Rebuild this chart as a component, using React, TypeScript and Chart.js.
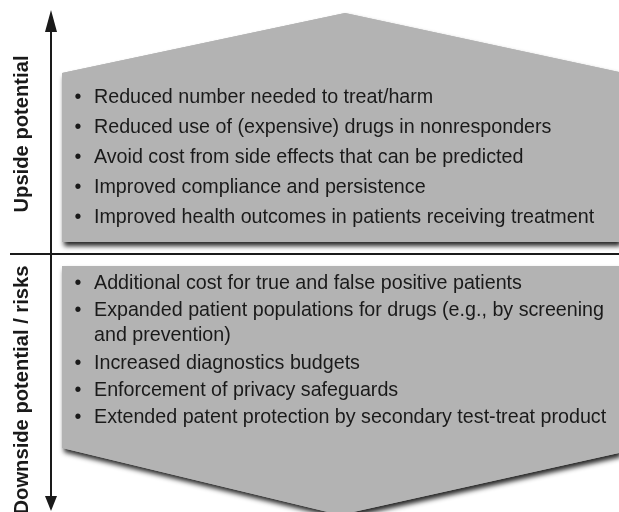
import React, { useEffect, useRef } from "react";
import { Chart, registerables } from "chart.js";

Chart.register(...registerables);

// Diagram content
const axisLabels = ["Upside potential", "Downside potential / risks"];
const upsideItems = [
  "Reduced number needed to treat/harm",
  "Reduced use of (expensive) drugs in nonresponders",
  "Avoid cost from side effects that can be predicted",
  "Improved compliance and persistence",
  "Improved health outcomes in patients receiving treatment",
];
const downsideItems = [
  ["Additional cost for true and false positive patients"],
  ["Expanded patient populations for drugs (e.g., by screening", "and prevention)"],
  ["Increased diagnostics budgets"],
  ["Enforcement of privacy safeguards"],
  ["Extended patent protection by secondary test-treat product"],
];

// Shape outlines in diagram units (x: 0..619, y: 0..512 top-down)
const upperShapeX = [62, 345, 619, 619, 62, 62];
const upperShapeY = [73, 13, 72, 242, 242, 73];
const lowerShapeX = [62, 619, 619, 340, 62, 62];
const lowerShapeY = [266, 266, 453, 515, 448, 266];
const vAxisX = [51, 51];
const vAxisY = [28, 498];
const hAxisX = [10, 619];
const hAxisY = [254, 254];
const upArrowX = [45, 51, 57, 45];
const upArrowY = [32, 10, 32, 32];
const downArrowX = [45, 51, 57, 45];
const downArrowY = [496, 511, 496, 496];

const upsideRows = [98, 128, 158, 188, 218];
const downsideRows = [284, 311, 364, 391, 418];
const labelCenters = [134, 390];

const pts = (xs: number[], ys: number[]) => xs.map((x, i) => ({ x, y: ys[i] }));

const GRAY = "#b3b3b3";
const INK = "#1a1a1a";

export default function App() {
  const ref = useRef<HTMLCanvasElement>(null);
  useEffect(() => {
    document.body.style.margin = "0";
    const canvas = ref.current!;
    const shadowPlugin = {
      id: "shadows",
      beforeDatasetsDraw(chart: any) {
        const ctx = chart.ctx;
        const xs = chart.scales.x;
        const ys = chart.scales.y;
        const shapes = [
          [upperShapeX, upperShapeY],
          [lowerShapeX, lowerShapeY],
        ];
        shapes.forEach(([sx, sy]) => {
          ctx.save();
          ctx.shadowColor = "rgba(0,0,0,0.85)";
          ctx.shadowBlur = 5;
          ctx.shadowOffsetX = 2;
          ctx.shadowOffsetY = 4;
          ctx.fillStyle = GRAY;
          ctx.beginPath();
          sx.forEach((x: number, i: number) => {
            const px = xs.getPixelForValue(x);
            const py = ys.getPixelForValue(sy[i]);
            if (i === 0) ctx.moveTo(px, py);
            else ctx.lineTo(px, py);
          });
          ctx.closePath();
          ctx.fill();
          ctx.restore();
        });
      },
    };
    const textPlugin = {
      id: "texts",
      afterDatasetsDraw(chart: any) {
        const ctx = chart.ctx;
        const xs = chart.scales.x;
        const ys = chart.scales.y;
        ctx.save();
        ctx.fillStyle = INK;
        ctx.textBaseline = "middle";
        ctx.font = '19.7px "Liberation Sans", Arial, sans-serif';
        const bx = xs.getPixelForValue(78);
        const tx = xs.getPixelForValue(94);
        upsideItems.forEach((t, i) => {
          const y = ys.getPixelForValue(upsideRows[i]);
          ctx.textAlign = "center";
          ctx.fillText("•", bx, y);
          ctx.textAlign = "left";
          ctx.fillText(t, tx, y);
        });
        downsideItems.forEach((lines, i) => {
          const y0 = ys.getPixelForValue(downsideRows[i]);
          ctx.textAlign = "center";
          ctx.fillText("•", bx, y0);
          ctx.textAlign = "left";
          lines.forEach((l, j) => ctx.fillText(l, tx, y0 + j * 25));
        });
        ctx.font = 'bold 20.2px "Liberation Sans", Arial, sans-serif';
        ctx.textAlign = "center";
        const lx = xs.getPixelForValue(22);
        axisLabels.forEach((t, i) => {
          ctx.save();
          ctx.translate(lx, ys.getPixelForValue(labelCenters[i]));
          ctx.rotate(-Math.PI / 2);
          ctx.fillText(t, 0, 0);
          ctx.restore();
        });
        ctx.restore();
      },
    };
    const shape = (xs: number[], ys: number[], color: string) => ({
      data: pts(xs, ys),
      showLine: true,
      fill: "shape",
      backgroundColor: color,
      borderColor: color,
      borderWidth: 0,
      pointRadius: 0,
      tension: 0,
    });
    const line = (xs: number[], ys: number[]) => ({
      data: pts(xs, ys),
      showLine: true,
      fill: false,
      borderColor: INK,
      borderWidth: 2,
      pointRadius: 0,
      tension: 0,
    });
    const chart = new Chart(canvas, {
      type: "scatter",
      data: {
        datasets: [
          shape(upperShapeX, upperShapeY, GRAY),
          shape(lowerShapeX, lowerShapeY, GRAY),
          line(vAxisX, vAxisY),
          line(hAxisX, hAxisY),
          shape(upArrowX, upArrowY, INK),
          shape(downArrowX, downArrowY, INK),
        ] as any,
      },
      options: {
        responsive: false,
        animation: false,
        events: [],
        layout: { padding: 0 },
        scales: {
          x: { type: "linear", min: 0, max: 619, display: false },
          y: { type: "linear", min: 0, max: 512, reverse: true, display: false },
        },
        plugins: { legend: { display: false }, tooltip: { enabled: false } },
      },
      plugins: [shadowPlugin, textPlugin],
    });
    return () => chart.destroy();
  }, []);
  return (
    <div style={{ width: 619, height: 512, background: "#fff" }}>
      <canvas ref={ref} width={619} height={512} style={{ display: "block" }} />
    </div>
  );
}
